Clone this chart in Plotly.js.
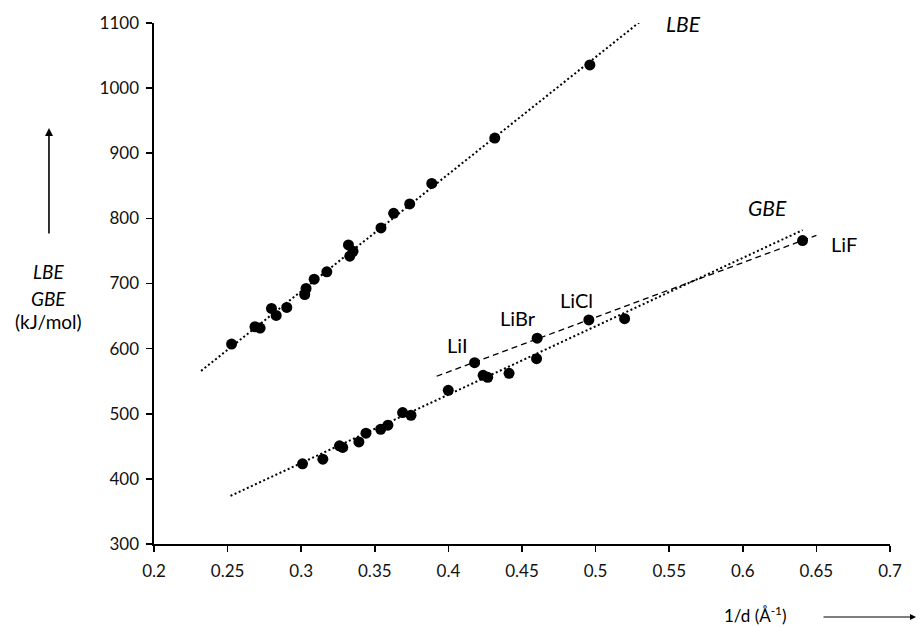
<!DOCTYPE html>
<html>
<head>
<meta charset="utf-8">
<script src="https://cdn.plot.ly/plotly-3.0.1.min.js"></script>
<style>html,body{margin:0;padding:0;background:#fff;}#chart{width:919px;height:627px;}</style>
</head>
<body>
<div id="chart"></div>
<script>
// LBE series (1/d in Å^-1, energy in kJ/mol)
const lbeX = [0.2527, 0.2686, 0.2721, 0.2798, 0.2830, 0.2902, 0.3024, 0.3033, 0.3088, 0.3174, 0.3321, 0.3352, 0.3330, 0.3542, 0.3628, 0.3737, 0.3887, 0.4315, 0.4961];
const lbeY = [607, 633.6, 631.5, 661.7, 651, 663.2, 683.1, 692.3, 706.6, 718, 759.3, 749.5, 741.9, 785.4, 807.7, 822.1, 853.7, 923.3, 1035.6];
// GBE series (non lithium halides)
const gbeX = [0.3009, 0.3147, 0.3260, 0.3282, 0.3392, 0.3440, 0.3540, 0.3589, 0.3689, 0.3746, 0.3999, 0.4236, 0.4267, 0.4412, 0.4599, 0.5197];
const gbeY = [423.1, 430.3, 450.7, 448.2, 456.8, 470.1, 476.2, 482.4, 501.8, 497.7, 536, 559, 556, 562.1, 584.6, 646];
// Lithium halides (GBE)
const liNames = ['LiI', 'LiBr', 'LiCl', 'LiF'];
const liX = [0.4178, 0.4603, 0.4954, 0.6406];
const liY = [578.5, 616, 644, 766];
// trendline extents (x range)
const lbeFitRange = [0.232, 0.531];
const gbeFitRange = [0.252, 0.6406];
const liFitRange = [0.392, 0.650];
// axis ticks
const xTicks = [0.2, 0.25, 0.3, 0.35, 0.4, 0.45, 0.5, 0.55, 0.6, 0.65, 0.7];
const yTicks = [300, 400, 500, 600, 700, 800, 900, 1000, 1100];

function linfit(xs, ys) {
  const n = xs.length;
  let sx = 0, sy = 0, sxx = 0, sxy = 0;
  for (let i = 0; i < n; i++) { sx += xs[i]; sy += ys[i]; sxx += xs[i]*xs[i]; sxy += xs[i]*ys[i]; }
  const b = (n*sxy - sx*sy) / (n*sxx - sx*sx);
  const a = (sy - b*sx) / n;
  return r => r.map(x => a + b*x);
}
const lbeFit = linfit(lbeX, lbeY);
const gbeFit = linfit(gbeX.concat(liX), gbeY.concat(liY));
const liFit = linfit(liX, liY);

const FONT = 'Lato, "Open Sans", sans-serif';
const dotLine = {color: '#000', width: 2, dash: '2px,2.5px'};
const marker = {color: '#000', size: 11};

const traces = [
  {x: lbeFitRange, y: lbeFit(lbeFitRange), mode: 'lines', line: dotLine, hoverinfo: 'skip'},
  {x: gbeFitRange, y: gbeFit(gbeFitRange), mode: 'lines', line: dotLine, hoverinfo: 'skip'},
  {x: liFitRange, y: liFit(liFitRange), mode: 'lines', line: {color: '#000', width: 1.3, dash: '6px,4px'}, hoverinfo: 'skip'},
  {x: lbeX, y: lbeY, mode: 'markers', marker: marker, name: 'LBE'},
  {x: gbeX, y: gbeY, mode: 'markers', marker: marker, name: 'GBE'},
  {x: liX, y: liY, mode: 'markers', marker: marker, name: 'Li halides', text: liNames}
];

const C = {xanchor: 'center', yanchor: 'middle', showarrow: false};
const liLabelPos = [[0.4061, 605], [0.4476, 646.4], [0.4871, 674], [0.669, 761]];
const annotations = liNames.map((t, i) => Object.assign({
  x: liLabelPos[i][0], y: liLabelPos[i][1], xref: 'x', yref: 'y', text: t,
  font: {family: FONT, size: 20, color: '#000'}
}, C));
annotations.push(
  Object.assign({x: 0.5599, y: 1100, xref: 'x', yref: 'y', text: '<i>LBE</i>', font: {family: FONT, size: 21, color: '#000'}}, C),
  Object.assign({x: 0.617, y: 816.5, xref: 'x', yref: 'y', text: '<i>GBE</i>', font: {family: FONT, size: 21, color: '#000'}}, C),
  Object.assign({x: -0.1427, y: 0.5226, xref: 'paper', yref: 'paper', text: '<i>LBE</i>', font: {family: FONT, size: 19, color: '#000'}}, C),
  Object.assign({x: -0.1427, y: 0.4716, xref: 'paper', yref: 'paper', text: '<i>GBE</i>', font: {family: FONT, size: 19, color: '#000'}}, C),
  Object.assign({x: -0.1427, y: 0.4267, xref: 'paper', yref: 'paper', text: '(kJ/mol)', font: {family: FONT, size: 19, color: '#000'}}, C),
  {x: -0.1427, y: 0.7985, xref: 'paper', yref: 'paper', text: '', showarrow: true, ax: 0, ay: 107, axref: 'pixel', ayref: 'pixel', arrowhead: 2, arrowsize: 1, arrowwidth: 1.6, arrowcolor: '#000'},
  Object.assign({x: 0.8166, y: -0.136, xref: 'paper', yref: 'paper', text: '1/d (Å<sup>-1</sup>)', font: {family: FONT, size: 17, color: '#000'}}, C),
  {x: 1.0353, y: -0.1401, xref: 'paper', yref: 'paper', text: '', showarrow: true, ax: -94, ay: 0, axref: 'pixel', ayref: 'pixel', arrowhead: 2, arrowsize: 1, arrowwidth: 1.2, arrowcolor: '#000'}
);

const layout = {
  width: 919, height: 627,
  margin: {l: 154, r: 29, t: 23, b: 83},
  paper_bgcolor: '#fff', plot_bgcolor: '#fff',
  showlegend: false,
  font: {family: FONT, color: '#000'},
  xaxis: {
    range: [0.2, 0.7], tickvals: xTicks, ticktext: xTicks.map(String),
    showgrid: false, zeroline: false, showline: true, linecolor: '#000', linewidth: 1.6,
    ticks: 'outside', ticklen: 6, tickwidth: 1.6, tickcolor: '#000', ticklabelstandoff: 5,
    tickfont: {family: FONT, size: 17, color: '#111'}
  },
  yaxis: {
    range: [300, 1100], tickvals: yTicks, ticktext: yTicks.map(String),
    showgrid: false, zeroline: false, showline: true, linecolor: '#000', linewidth: 1.6,
    ticks: 'outside', ticklen: 6, tickwidth: 1.6, tickcolor: '#000', ticklabelstandoff: 4,
    tickfont: {family: FONT, size: 17, color: '#111'}
  },
  annotations: annotations
};

Plotly.newPlot('chart', traces, layout, {displayModeBar: false, staticPlot: true});
</script>
</body>
</html>
